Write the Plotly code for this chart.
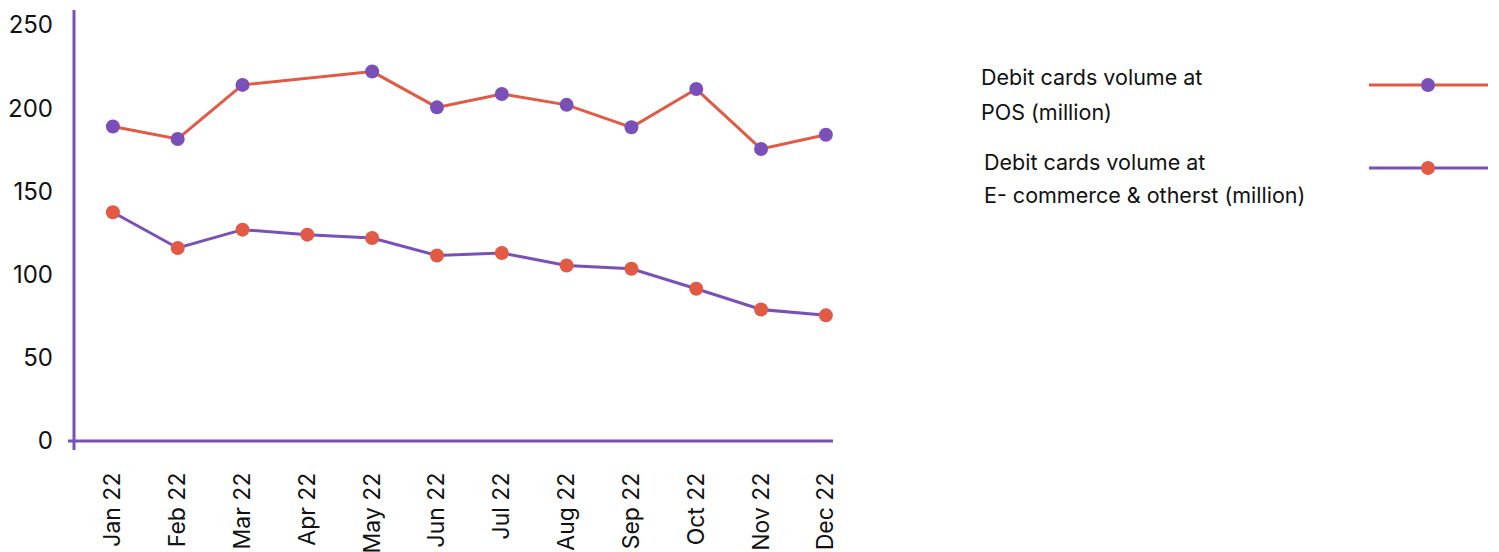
import plotly.graph_objects as go

months = ["Jan 22", "Feb 22", "Mar 22", "Apr 22", "May 22", "Jun 22",
          "Jul 22", "Aug 22", "Sep 22", "Oct 22", "Nov 22", "Dec 22"]
pos_volume = [189, 181.5, 214, None, 222, 200.5, 208.5, 202, 188.5, 211.5, 175.5, 184]
ecom_volume = [137.5, 116, 127, 124, 122, 111.5, 113, 105.5, 103.5, 91.5, 79, 75.5]
y_ticks = [0, 50, 100, 150, 200, 250]
legend_lines = [
    ["Debit cards volume at", "POS (million)"],
    ["Debit cards volume at", "E- commerce & otherst (million)"],
]

RED = "#E25A44"
PURPLE = "#7A50B8"
FONT = "Inter, Noto Sans, sans-serif"
TEXT = "#111111"

x = list(range(len(months)))

fig = go.Figure()
fig.add_trace(go.Scatter(
    x=x, y=pos_volume, mode="lines+markers", connectgaps=True,
    line=dict(color=RED, width=3),
    marker=dict(color=PURPLE, size=14),
    name="POS", showlegend=False))
fig.add_trace(go.Scatter(
    x=x, y=ecom_volume, mode="lines+markers",
    line=dict(color=PURPLE, width=3),
    marker=dict(color=RED, size=14),
    name="E-commerce", showlegend=False))

L, R, T, B = 74, 833, 10, 441
W, H = 1499, 552
pw, ph = R - L, B - T


def px(xp):
    return (xp - L) / pw


def py(yp):
    return (B - yp) / ph


shapes = [
    # axis lines with a small overshoot past the corner
    dict(type="line", xref="paper", yref="paper", x0=px(74), x1=px(74),
         y0=py(450), y1=py(10), line=dict(color=PURPLE, width=3)),
    dict(type="line", xref="paper", yref="paper", x0=px(68), x1=px(833),
         y0=py(441), y1=py(441), line=dict(color=PURPLE, width=3)),
]
annotations = []

# legend: text on the left, sample line + marker on the right
entries = [
    dict(tx=979, ty=[77, 112], ly=85, line=RED, dot=PURPLE),
    dict(tx=982, ty=[162, 195], ly=168, line=PURPLE, dot=RED),
]
for e, lines in zip(entries, legend_lines):
    for t, yy in zip(lines, e["ty"]):
        annotations.append(dict(
            xref="paper", yref="paper", x=px(e["tx"]), y=py(yy),
            text=t, showarrow=False, xanchor="left", yanchor="middle",
            font=dict(family=FONT, size=21.5, color=TEXT)))
    shapes.append(dict(type="line", xref="paper", yref="paper",
                       x0=px(1369), x1=px(1488), y0=py(e["ly"]), y1=py(e["ly"]),
                       line=dict(color=e["line"], width=3)))
    shapes.append(dict(type="circle", xref="paper", yref="paper",
                       xsizemode="pixel", ysizemode="pixel",
                       xanchor=px(1428), yanchor=py(e["ly"]),
                       x0=-7, x1=7, y0=-7, y1=7,
                       fillcolor=e["dot"], line=dict(width=0)))

fig.update_layout(
    width=W, height=H,
    margin=dict(l=L, r=W - R, t=T, b=H - B, pad=0),
    paper_bgcolor="white", plot_bgcolor="white",
    font=dict(family=FONT, color=TEXT),
    shapes=shapes, annotations=annotations,
    xaxis=dict(range=[-0.6, 11.11], tickmode="array", tickvals=x, ticktext=months,
               tickangle=-90, showgrid=False, zeroline=False, showline=False,
               ticks="", tickfont=dict(family=FONT, size=23, color=TEXT),
               ticklabelstandoff=26, automargin=False),
    yaxis=dict(range=[0, 259], tickmode="array", tickvals=y_ticks,
               showgrid=False, zeroline=False, showline=False, ticks="",
               tickfont=dict(family=FONT, size=24, color=TEXT),
               ticklabelstandoff=20, automargin=False),
)

fig.write_html("out.html")
